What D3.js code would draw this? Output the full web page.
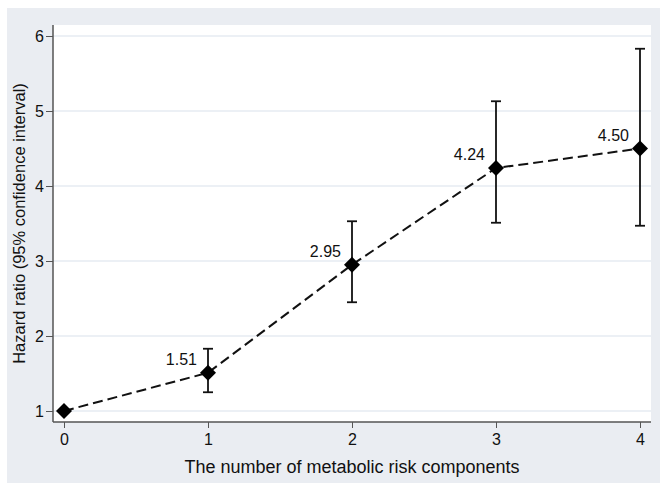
<!DOCTYPE html>
<html>
<head>
<meta charset="utf-8">
<script src="https://cdn.jsdelivr.net/npm/d3@7"></script>
<style>
  body { margin: 0; background: #fff; }
</style>
</head>
<body>
<div id="chart-area"></div>
<script>
const components = [0, 1, 2, 3, 4];
const hazard = [1, 1.51, 2.95, 4.24, 4.50];
const ciLow = [null, 1.25, 2.45, 3.51, 3.47];
const ciHigh = [null, 1.83, 3.53, 5.13, 5.83];
const pointLabels = [null, "1.51", "2.95", "4.24", "4.50"];
const yTicks = [1, 2, 3, 4, 5, 6];

const W = 660, H = 483;
const plot = { left: 53, right: 651, top: 25, bottom: 422 };
const font = '"Liberation Sans", Arial, sans-serif';

const svg = d3.select('#chart-area')
  .append('svg')
  .attr('width', W)
  .attr('height', H)
  .style('font-family', font);

// outer panel
svg.append('rect')
  .attr('x', 7).attr('y', 8)
  .attr('width', W - 7).attr('height', H - 8)
  .attr('fill', '#eaedf2');

svg.append('rect')
  .attr('x', plot.left).attr('y', plot.top)
  .attr('width', plot.right - plot.left).attr('height', plot.bottom - plot.top)
  .attr('fill', '#fff');

const x = d3.scaleLinear().domain([0, 4]).range([64, 640]);
const y = d3.scaleLinear().domain([1, 6]).range([411, 36]);

// grid
svg.append('g')
  .selectAll('line')
  .data(yTicks)
  .join('line')
  .attr('x1', plot.left).attr('x2', plot.right)
  .attr('y1', d => y(d)).attr('y2', d => y(d))
  .attr('stroke', '#e6ebf2')
  .attr('stroke-width', 1.5);

// axes
const yAxis = svg.append('g')
  .attr('transform', `translate(${plot.left},0)`)
  .call(d3.axisLeft(y).tickValues(yTicks).tickFormat(d3.format('d'))
    .tickSize(7).tickPadding(2).tickSizeOuter(0));
yAxis.select('.domain').attr('d', `M0,${plot.top}V${plot.bottom}`);

const xAxis = svg.append('g')
  .attr('transform', `translate(0,${plot.bottom})`)
  .call(d3.axisBottom(x).tickValues(components).tickFormat(d3.format('d'))
    .tickSize(6).tickPadding(6).tickSizeOuter(0));
xAxis.select('.domain').attr('d', `M${plot.left},0H${plot.right}`);

svg.selectAll('.domain').attr('stroke', '#555').attr('stroke-width', 1.5);
svg.selectAll('.tick line').attr('stroke', '#555').attr('stroke-width', 1);
svg.selectAll('.tick text')
  .attr('font-size', 16)
  .attr('font-family', font)
  .attr('fill', '#111');

// axis titles
svg.append('text')
  .attr('x', x(2)).attr('y', 473)
  .attr('text-anchor', 'middle')
  .attr('font-size', 18)
  .attr('fill', '#111')
  .text('The number of metabolic risk components');

svg.append('text')
  .attr('transform', `translate(25,${(plot.top + plot.bottom) / 2}) rotate(-90)`)
  .attr('text-anchor', 'middle')
  .attr('font-size', 16.5)
  .attr('fill', '#111')
  .text('Hazard ratio (95% confidence interval)');

const data = components.map((c, i) => ({
  c, hr: hazard[i], lo: ciLow[i], hi: ciHigh[i], label: pointLabels[i]
}));

// error bars
const ci = data.filter(d => d.lo !== null);
const capW = 5;
const eb = svg.append('g').attr('stroke', '#111').attr('stroke-width', 1.8);
eb.selectAll('line.v').data(ci).join('line').attr('class', 'v')
  .attr('x1', d => x(d.c)).attr('x2', d => x(d.c))
  .attr('y1', d => y(d.lo)).attr('y2', d => y(d.hi));
eb.selectAll('line.t').data(ci).join('line').attr('class', 't')
  .attr('x1', d => x(d.c) - capW).attr('x2', d => x(d.c) + capW)
  .attr('y1', d => y(d.hi)).attr('y2', d => y(d.hi));
eb.selectAll('line.b').data(ci).join('line').attr('class', 'b')
  .attr('x1', d => x(d.c) - capW).attr('x2', d => x(d.c) + capW)
  .attr('y1', d => y(d.lo)).attr('y2', d => y(d.lo));

// dashed line
const line = d3.line().x(d => x(d.c)).y(d => y(d.hr));
svg.append('path')
  .datum(data)
  .attr('d', line)
  .attr('fill', 'none')
  .attr('stroke', '#111')
  .attr('stroke-width', 2)
  .attr('stroke-dasharray', '10,5');

// diamonds
svg.append('g')
  .selectAll('path')
  .data(data)
  .join('path')
  .attr('transform', d => `translate(${x(d.c)},${y(d.hr)})`)
  .attr('d', 'M0,-8L8,0L0,8L-8,0Z')
  .attr('fill', '#000');

// value labels
svg.append('g')
  .selectAll('text')
  .data(data.filter(d => d.label))
  .join('text')
  .attr('x', d => x(d.c) - 11)
  .attr('y', d => y(d.hr) - 8)
  .attr('text-anchor', 'end')
  .attr('font-size', 16)
  .attr('fill', '#111')
  .text(d => d.label);
</script>
</body>
</html>
